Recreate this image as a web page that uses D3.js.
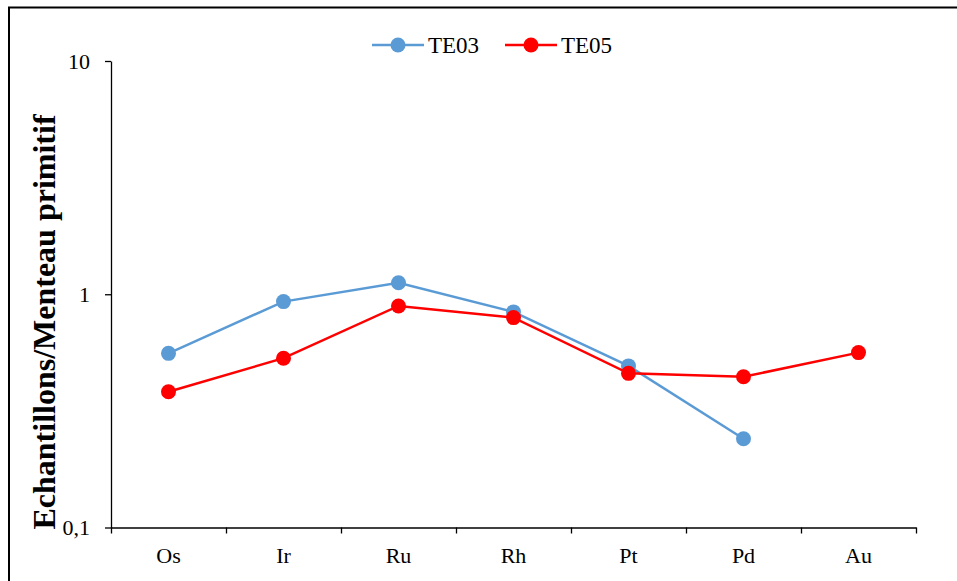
<!DOCTYPE html>
<html>
<head>
<meta charset="utf-8">
<script src="https://cdn.jsdelivr.net/npm/d3@7"></script>
<style>
  body { margin: 0; background: #fff; }
  svg { display: block; font-family: "Liberation Serif", "Times New Roman", serif; }
</style>
</head>
<body>
<div id="chart"></div>
<script>
// data
var elements = ["Os", "Ir", "Ru", "Rh", "Pt", "Pd", "Au"];
var te03 = [0.558, 0.93, 1.12, 0.84, 0.493, 0.240, null];
var te05 = [0.382, 0.532, 0.891, 0.794, 0.458, 0.443, 0.562];
var yTicks = [0.1, 1, 10];
var yTickLabels = ["0,1", "1", "10"];

var series = [
  { name: "TE03", values: te03, color: "#5B9BD5" },
  { name: "TE05", values: te05, color: "#FF0000" }
];

var width = 957, height = 581;
var plotLeft = 111, plotRight = 916, plotTop = 61, plotBottom = 527.5;

var svg = d3.select("#chart")
  .append("svg")
  .attr("width", width)
  .attr("height", height);

// outer frame (cut by the window on the right and bottom)
svg.append("rect")
  .attr("x", 9).attr("y", 7.5)
  .attr("width", 1000).attr("height", 700)
  .attr("fill", "none")
  .attr("stroke", "#000")
  .attr("stroke-width", 2);

var x = d3.scaleBand().domain(elements).range([plotLeft, plotRight]).padding(0);
var y = d3.scaleLog().domain([0.1, 10]).range([plotBottom, plotTop]);

// y axis
var yAxis = svg.append("g")
  .attr("transform", "translate(" + plotLeft + ",0)")
  .call(d3.axisLeft(y)
    .tickValues(yTicks)
    .tickFormat(function (d, i) { return yTickLabels[i]; })
    .tickSizeInner(6)
    .tickSizeOuter(0)
    .tickPadding(15));
yAxis.selectAll("text").attr("font-size", 22).attr("fill", "#000").attr("font-family", "Liberation Serif");
yAxis.selectAll("line, path").attr("stroke", "#000").attr("stroke-width", 1.3);

// x axis: labels in band centers, ticks on band edges
var edges = d3.scaleLinear().domain([0, elements.length]).range([plotLeft, plotRight]);
var xTicks = svg.append("g")
  .attr("transform", "translate(0," + plotBottom + ")")
  .call(d3.axisBottom(edges)
    .tickValues(d3.range(elements.length + 1))
    .tickFormat("")
    .tickSizeInner(6)
    .tickSizeOuter(0));
xTicks.selectAll("line, path").attr("stroke", "#000").attr("stroke-width", 1.3);

var xLabels = svg.append("g")
  .attr("transform", "translate(0," + plotBottom + ")")
  .call(d3.axisBottom(x).tickSize(0).tickPadding(20));
xLabels.select(".domain").remove();
xLabels.selectAll("text").attr("font-size", 22).attr("fill", "#000").attr("font-family", "Liberation Serif");

// y title
svg.append("text")
  .attr("transform", "translate(55," + 322 + ") rotate(-90)")
  .attr("text-anchor", "middle")
  .attr("font-size", 32)
  .attr("font-weight", "bold")
  .text("Echantillons/Menteau primitif");

// lines and markers
var line = d3.line()
  .defined(function (d) { return d != null; })
  .x(function (d, i) { return x(elements[i]) + x.bandwidth() / 2; })
  .y(function (d) { return y(d); });

series.forEach(function (s) {
  var g = svg.append("g");
  g.append("path")
    .datum(s.values)
    .attr("d", line)
    .attr("fill", "none")
    .attr("stroke", s.color)
    .attr("stroke-width", 2.5);
  g.selectAll("circle")
    .data(s.values.map(function (v, i) { return { v: v, i: i }; }).filter(function (d) { return d.v != null; }))
    .enter().append("circle")
    .attr("cx", function (d) { return x(elements[d.i]) + x.bandwidth() / 2; })
    .attr("cy", function (d) { return y(d.v); })
    .attr("r", 7.5)
    .attr("fill", s.color);
});

// legend
var legendX = [372, 505];
var legend = svg.selectAll(".legend")
  .data(series)
  .enter().append("g")
  .attr("class", "legend")
  .attr("transform", function (d, i) { return "translate(" + legendX[i] + ",45)"; });
legend.append("line")
  .attr("x1", 0).attr("x2", 52)
  .attr("stroke", function (d) { return d.color; })
  .attr("stroke-width", 2.5);
legend.append("circle")
  .attr("cx", 26).attr("r", 7.5)
  .attr("fill", function (d) { return d.color; });
legend.append("text")
  .attr("x", 56).attr("y", 7.5)
  .attr("font-size", 23)
  .text(function (d) { return d.name; });
</script>
</body>
</html>
